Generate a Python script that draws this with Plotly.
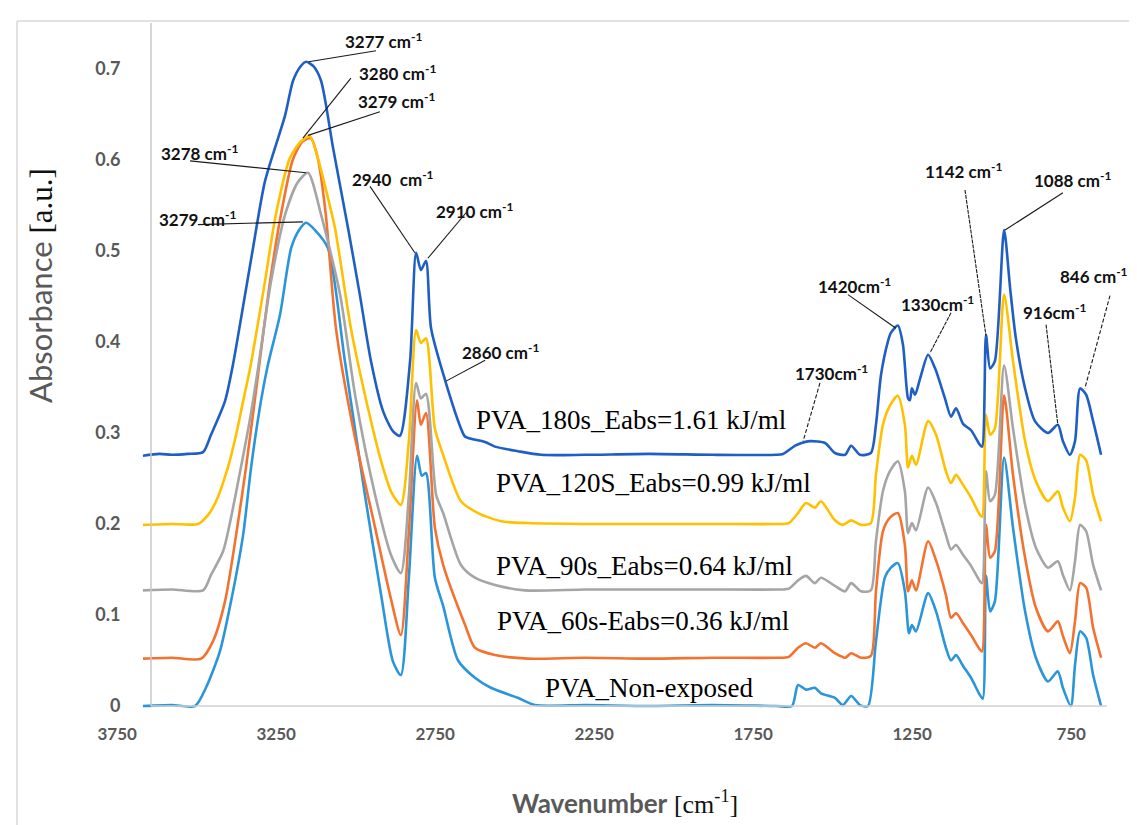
import plotly.graph_objects as go

# ---------------- data ----------------
wn_180 = [3791, 3740, 3700, 3650, 3602, 3577, 3533, 3508, 3483, 3445, 3407, 3344, 3319, 3295, 3278, 3255, 3231,
          3193, 3146, 3109, 3074, 3036, 3005, 2983, 2951, 2932, 2917, 2901, 2885, 2841, 2791, 2778, 2715, 2684,
          2612, 2539, 2400, 2200, 2000, 1800, 1778, 1740, 1720, 1693, 1646, 1615, 1583, 1564, 1536, 1502, 1486,
          1470, 1448, 1439, 1417, 1401, 1385, 1379, 1373, 1363, 1347, 1322, 1300, 1269, 1250, 1234, 1212, 1187,
          1159, 1152, 1140, 1127, 1112, 1083, 1064, 1046, 1017, 986, 945, 914, 898, 876, 860, 844, 825, 803, 778]
abs_180 = [0.275, 0.277, 0.276, 0.277, 0.279, 0.298, 0.335, 0.375, 0.425, 0.503, 0.577, 0.649, 0.687, 0.703, 0.708,
           0.703, 0.687, 0.613, 0.525, 0.452, 0.379, 0.324, 0.302, 0.297, 0.379, 0.498, 0.479, 0.489, 0.415, 0.358,
           0.305, 0.296, 0.290, 0.285, 0.280, 0.276, 0.276, 0.277, 0.276, 0.276, 0.277, 0.286, 0.289, 0.291, 0.289,
           0.278, 0.276, 0.286, 0.276, 0.278, 0.309, 0.364, 0.401, 0.410, 0.418, 0.397, 0.338, 0.336, 0.349, 0.342,
           0.360, 0.386, 0.371, 0.338, 0.318, 0.327, 0.310, 0.303, 0.287, 0.285, 0.408, 0.371, 0.379, 0.523, 0.459,
           0.404, 0.349, 0.313, 0.300, 0.309, 0.291, 0.276, 0.291, 0.349, 0.342, 0.313, 0.276]

wn_120 = [3791, 3700, 3618, 3586, 3561, 3524, 3498, 3476, 3454, 3407, 3373, 3329, 3295, 3266, 3241, 3209, 3187,
          3137, 3093, 3042, 3010, 2980, 2955, 2932, 2917, 2901, 2873, 2847, 2791, 2737, 2665, 2580, 2400, 2200,
          2000, 1800, 1760, 1731, 1706, 1678, 1659, 1615, 1590, 1564, 1533, 1502, 1486, 1464, 1442, 1417, 1395,
          1385, 1373, 1360, 1322, 1297, 1266, 1250, 1234, 1212, 1187, 1159, 1152, 1140, 1127, 1112, 1083, 1055,
          1017, 983, 945, 914, 898, 876, 860, 844, 825, 803, 778]
abs_120 = [0.199, 0.200, 0.200, 0.210, 0.225, 0.262, 0.298, 0.335, 0.371, 0.467, 0.540, 0.602, 0.620, 0.626, 0.602,
           0.558, 0.525, 0.415, 0.342, 0.269, 0.235, 0.221, 0.290, 0.413, 0.399, 0.404, 0.305, 0.276, 0.225, 0.212,
           0.203, 0.201, 0.200, 0.200, 0.200, 0.200, 0.201, 0.212, 0.223, 0.218, 0.225, 0.204, 0.199, 0.204, 0.199,
           0.201, 0.254, 0.309, 0.330, 0.341, 0.309, 0.262, 0.275, 0.265, 0.313, 0.298, 0.258, 0.245, 0.254, 0.243,
           0.229, 0.210, 0.208, 0.320, 0.298, 0.305, 0.452, 0.379, 0.291, 0.247, 0.225, 0.236, 0.218, 0.203, 0.229,
           0.276, 0.270, 0.232, 0.203]

wn_90 = [3791, 3700, 3602, 3577, 3539, 3514, 3483, 3454, 3429, 3388, 3344, 3305, 3272, 3231, 3171, 3124, 3061,
         3010, 2980, 2955, 2932, 2917, 2901, 2869, 2847, 2791, 2747, 2684, 2590, 2400, 2200, 2000, 1800, 1760,
         1731, 1706, 1678, 1659, 1615, 1583, 1564, 1533, 1502, 1486, 1464, 1442, 1417, 1395, 1385, 1373, 1360,
         1322, 1297, 1266, 1250, 1234, 1212, 1187, 1159, 1152, 1140, 1127, 1112, 1083, 1055, 1017, 983, 945, 914,
         898, 876, 860, 844, 825, 803, 778]
abs_90 = [0.127, 0.128, 0.127, 0.144, 0.170, 0.207, 0.262, 0.316, 0.371, 0.467, 0.540, 0.575, 0.586, 0.540, 0.452,
          0.342, 0.232, 0.165, 0.146, 0.230, 0.355, 0.338, 0.343, 0.232, 0.212, 0.155, 0.141, 0.133, 0.127, 0.128,
          0.128, 0.128, 0.128, 0.129, 0.138, 0.143, 0.135, 0.141, 0.132, 0.126, 0.135, 0.126, 0.127, 0.181, 0.236,
          0.258, 0.269, 0.236, 0.190, 0.201, 0.193, 0.240, 0.223, 0.188, 0.172, 0.177, 0.166, 0.154, 0.137, 0.135,
          0.258, 0.225, 0.232, 0.374, 0.305, 0.221, 0.174, 0.152, 0.159, 0.144, 0.127, 0.159, 0.199, 0.192, 0.155,
          0.127]

wn_60 = [3791, 3700, 3608, 3571, 3533, 3498, 3467, 3436, 3391, 3357, 3320, 3290, 3263, 3240, 3216, 3184, 3130,
         3061, 3014, 2980, 2955, 2929, 2917, 2901, 2873, 2847, 2778, 2747, 2684, 2580, 2400, 2200, 2000, 1800,
         1760, 1731, 1706, 1678, 1659, 1615, 1583, 1564, 1533, 1502, 1486, 1464, 1442, 1417, 1395, 1385, 1373,
         1360, 1322, 1297, 1266, 1250, 1234, 1212, 1187, 1159, 1152, 1140, 1127, 1112, 1083, 1055, 1017, 983, 945,
         914, 898, 876, 860, 844, 825, 803, 778]
abs_60 = [0.052, 0.053, 0.052, 0.071, 0.115, 0.188, 0.262, 0.345, 0.467, 0.540, 0.600, 0.620, 0.624, 0.600, 0.540,
          0.415, 0.305, 0.196, 0.122, 0.078, 0.190, 0.336, 0.309, 0.322, 0.196, 0.155, 0.089, 0.064, 0.056, 0.052,
          0.053, 0.052, 0.053, 0.053, 0.054, 0.064, 0.069, 0.064, 0.069, 0.058, 0.053, 0.058, 0.053, 0.055, 0.126,
          0.192, 0.207, 0.212, 0.177, 0.126, 0.138, 0.127, 0.181, 0.160, 0.122, 0.097, 0.102, 0.091, 0.078, 0.062,
          0.060, 0.199, 0.163, 0.170, 0.341, 0.254, 0.163, 0.108, 0.082, 0.093, 0.077, 0.058, 0.093, 0.135, 0.130,
          0.086, 0.053]

wn_non = [3791, 3700, 3627, 3593, 3549, 3514, 3476, 3451, 3420, 3398, 3360, 3325, 3300, 3278, 3250, 3209, 3156,
          3093, 3042, 3005, 2980, 2955, 2929, 2914, 2901, 2873, 2847, 2800, 2747, 2697, 2612, 2558, 2400, 2200,
          2000, 1800, 1750, 1731, 1706, 1678, 1659, 1615, 1590, 1564, 1536, 1511, 1486, 1458, 1439, 1417, 1395,
          1382, 1373, 1360, 1322, 1297, 1266, 1250, 1234, 1212, 1187, 1159, 1150, 1140, 1127, 1112, 1083, 1055,
          1017, 983, 945, 914, 898, 873, 860, 844, 825, 803, 778]
abs_non = [0.000, 0.001, 0.000, 0.020, 0.060, 0.115, 0.188, 0.262, 0.335, 0.375, 0.430, 0.503, 0.523, 0.531, 0.523,
           0.503, 0.379, 0.232, 0.122, 0.049, 0.034, 0.140, 0.275, 0.253, 0.256, 0.141, 0.110, 0.050, 0.031, 0.020,
           0.009, 0.001, 0.001, 0.000, 0.001, 0.000, 0.000, 0.023, 0.018, 0.020, 0.014, 0.009, 0.001, 0.011, 0.001,
           0.000, 0.071, 0.141, 0.152, 0.157, 0.126, 0.080, 0.089, 0.082, 0.124, 0.104, 0.064, 0.050, 0.056, 0.044,
           0.031, 0.012, 0.008, 0.143, 0.104, 0.115, 0.273, 0.196, 0.104, 0.053, 0.027, 0.038, 0.020, 0.000, 0.045,
           0.082, 0.075, 0.034, 0.000]

series_names = ["PVA_Non-exposed", "PVA_60s-Eabs=0.36 kJ/ml", "PVA_90s_Eabs=0.64 kJ/ml",
                "PVA_120S_Eabs=0.99 kJ/ml", "PVA_180s_Eabs=1.61 kJ/ml"]
series_x = [wn_non, wn_60, wn_90, wn_120, wn_180]
series_y = [abs_non, abs_60, abs_90, abs_120, abs_180]
series_colors = ["#2B95D9", "#F4722F", "#A5A5A5", "#FFC000", "#1F5FC4"]

x_tick_labels = [3750, 3250, 2750, 2250, 1750, 1250, 750]
y_tick_vals = [0, 0.1, 0.2, 0.3, 0.4, 0.5, 0.6, 0.7]
y_tick_text = ["0", "0.1", "0.2", "0.3", "0.4", "0.5", "0.6", "0.7"]

# peak labels: text, label position, leader line (from -> to), dash
peak_labels = [
    ("3277 cm<sup>-1</sup>", 3036, 0.731, 3058, 0.720, 3270, 0.708, "solid"),
    ("3280 cm<sup>-1</sup>", 2992, 0.696, 3137, 0.690, 3288, 0.624, "solid"),
    ("3279 cm<sup>-1</sup>", 2995, 0.665, 3046, 0.653, 3272, 0.627, "solid"),
    ("3278 cm<sup>-1</sup>", 3612, 0.608, 3643, 0.599, 3278, 0.586, "solid"),
    ("3279 cm<sup>-1</sup>", 3621, 0.536, 3618, 0.529, 3288, 0.532, "solid"),
    ("2940&nbsp; cm<sup>-1</sup>", 3005, 0.580, 3077, 0.571, 2936, 0.498, "solid"),
    ("2910 cm<sup>-1</sup>", 2747, 0.544, 2775, 0.542, 2895, 0.492, "solid"),
    ("2860 cm<sup>-1</sup>", 2668, 0.390, 2715, 0.380, 2838, 0.357, "solid"),
    ("1730cm<sup>-1</sup>", 1627, 0.367, 1662, 0.355, 1715, 0.291, "4px,2px"),
    ("1420cm<sup>-1</sup>", 1552, 0.462, 1574, 0.452, 1423, 0.415, "solid"),
    ("1330cm<sup>-1</sup>", 1291, 0.442, 1250, 0.432, 1316, 0.388, "4px,1px"),
    ("1142 cm<sup>-1</sup>", 1212, 0.588, 1206, 0.567, 1140, 0.407, "4px,1px"),
    ("1088 cm<sup>-1</sup>", 869, 0.579, 898, 0.564, 1080, 0.523, "solid"),
    ("916cm<sup>-1</sup>", 926, 0.433, 951, 0.419, 914, 0.309, "4px,1px"),
    ("846 cm<sup>-1</sup>", 800, 0.473, 750, 0.451, 829, 0.349, "4px,2px"),
]

series_label_pos = [(2200, 0.020), (2219, 0.093), (2215, 0.154), (2184, 0.245), (2256, 0.314)]

# ---------------- figure ----------------
W, H = 1137, 825
L, R, T, B = 100, 1110, 15, 702
x_range = [3900.9, 724.8]
y_range = [-0.0044, 0.7505]
# the category labels of the original axis sit ~38 px left of the true wavenumber positions
label_shift = 122

fig = go.Figure()
for name, xs, ys, col in zip(series_names, series_x, series_y, series_colors):
    fig.add_trace(go.Scatter(x=xs, y=ys, mode="lines", name=name, showlegend=False, hoverinfo="skip",
                             line=dict(color=col, width=2.6, shape="spline", smoothing=0.7)))

fig.update_layout(width=W, height=H, margin=dict(l=L, r=W - R, t=T, b=H - B, pad=0),
                  paper_bgcolor="white", plot_bgcolor="white", showlegend=False)

fig.update_xaxes(range=x_range, tickmode="array", tickvals=[v + label_shift for v in x_tick_labels],
                 ticktext=[str(v) for v in x_tick_labels],
                 ticks="outside", ticklen=9, tickcolor="rgba(0,0,0,0)", showline=False, showgrid=False,
                 zeroline=False, automargin=False,
                 tickfont=dict(family="Lato", size=17, color="#595959", weight="bold"))
fig.update_yaxes(range=y_range, anchor="free", position=(143 - L) / (R - L), tickmode="array",
                 tickvals=y_tick_vals, ticktext=y_tick_text, ticks="outside", ticklen=27,
                 tickcolor="rgba(0,0,0,0)", showline=False, showgrid=False, zeroline=False, automargin=False,
                 tickfont=dict(family="Lato", size=18, color="#595959", weight="bold"))

axis_x = 3765.7
shapes = [
    dict(type="line", xref="x", yref="y", x0=axis_x, x1=axis_x, y0=0, y1=y_range[1],
         line=dict(color="#C8C8C8", width=1.5)),
    dict(type="line", xref="x", yref="y", x0=axis_x, x1=760, y0=0, y1=0,
         line=dict(color="#D0D0D0", width=1.5)),
    # chart-area border (top and left)
    dict(type="line", xref="paper", yref="paper", x0=(9 - L) / (R - L), x1=(W - L) / (R - L),
         y0=(B - 13) / (B - T), y1=(B - 13) / (B - T), line=dict(color="#D9D9D9", width=1.5)),
    dict(type="line", xref="paper", yref="paper", x0=(9 - L) / (R - L), x1=(9 - L) / (R - L),
         y0=(B - 13) / (B - T), y1=(B - H) / (B - T), line=dict(color="#D9D9D9", width=1.5)),
]
annotations = []
for text, tx, ty, lx0, ly0, lx1, ly1, dash in peak_labels:
    shapes.append(dict(type="line", xref="x", yref="y", x0=lx0, y0=ly0, x1=lx1, y1=ly1,
                       line=dict(color="#1A1A1A", width=1.1, dash=dash)))
    annotations.append(dict(x=tx, y=ty, xref="x", yref="y", text=text, showarrow=False,
                            xanchor="center", yanchor="middle",
                            font=dict(family="Lato", size=17, color="#111111", weight="bold")))

for name, (sx, sy) in zip(series_names, series_label_pos):
    annotations.append(dict(x=sx, y=sy, xref="x", yref="y", text=name, showarrow=False,
                            xanchor="center", yanchor="middle",
                            font=dict(family="Liberation Serif", size=27, color="#000000")))

annotations.append(dict(x=(32 - L) / (R - L), y=(B - 278) / (B - T), xref="paper", yref="paper",
                        text="Absorbance <span style='font-family:Liberation Serif;color:#111111'>[a.u.]</span>",
                        textangle=-90, showarrow=False, xanchor="center", yanchor="middle",
                        font=dict(family="Lato", size=31, color="#595959")))
annotations.append(dict(x=(617 - L) / (R - L), y=(B - 794) / (B - T), xref="paper", yref="paper",
                        text="<b>Wavenumber</b> <span style='font-family:Liberation Serif;color:#111111'>[cm<sup>-1</sup>]</span>",
                        showarrow=False, xanchor="center", yanchor="middle",
                        font=dict(family="Lato", size=26, color="#595959")))

fig.update_layout(shapes=shapes, annotations=annotations)
fig.write_html("out.html")
